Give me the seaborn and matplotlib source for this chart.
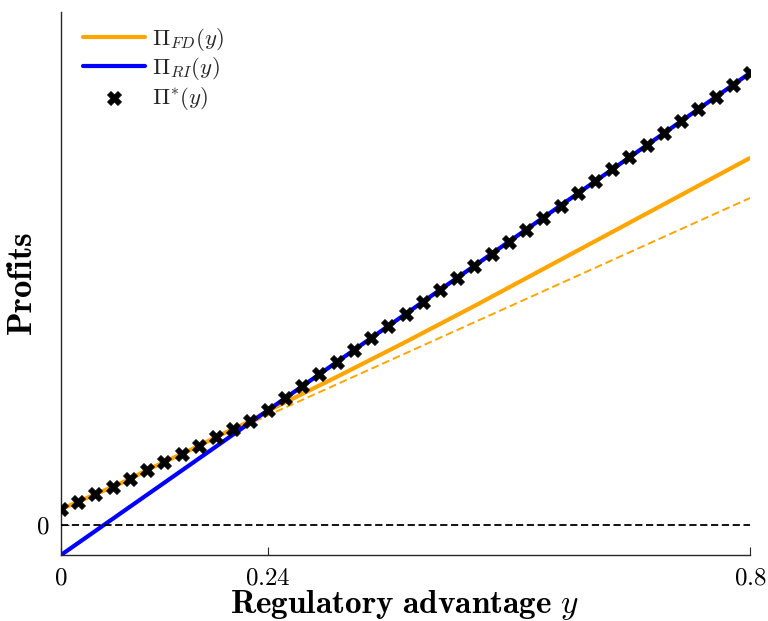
import matplotlib
matplotlib.use("Agg")
import matplotlib.pyplot as plt
import seaborn as sns
import numpy as np
import pandas as pd

# ---- data ----
fd_x = [0.00, 0.02, 0.04, 0.06, 0.08, 0.10, 0.12, 0.14, 0.16, 0.18, 0.20, 0.22, 0.24,
        0.32, 0.40, 0.48, 0.56, 0.64, 0.72, 0.80]
fd_y = [0.16, 0.23, 0.31, 0.38, 0.46, 0.55, 0.63, 0.71, 0.79, 0.88, 0.96, 1.04, 1.14,
        1.48, 1.83, 2.19, 2.56, 2.93, 3.30, 3.67]
fd_dash_x = [0.20, 0.80]
fd_dash_y = [0.94, 3.27]
ri_x = [0.00, 0.80]
ri_y = [-0.30, 4.52]
star_x = [round(0.02 * i, 2) for i in range(41)]
star_y = [0.16, 0.23, 0.31, 0.38, 0.46, 0.55, 0.63, 0.71, 0.79, 0.88, 0.96, 1.04,
          1.15, 1.27, 1.39, 1.51, 1.63, 1.75, 1.87, 1.99, 2.11, 2.23, 2.35, 2.47,
          2.59, 2.71, 2.83, 2.95, 3.07, 3.19, 3.32, 3.44, 3.56, 3.68, 3.80, 3.92,
          4.04, 4.16, 4.28, 4.40, 4.52]
xticks = [0, 0.24, 0.8]
xtick_labels = ["$0$", "$0.24$", "$0.8$"]
yticks = [0]
ytick_labels = ["$0$"]

sns.set_theme(style="ticks")
plt.rcParams["mathtext.fontset"] = "cm"
plt.rcParams["font.family"] = ["DejaVu Serif"]

fig = plt.figure(figsize=(7.68, 6.21), dpi=100)
ax = fig.add_axes([61 / 768, 1 - 555 / 621, 689 / 768, 543 / 621])

df_fd = pd.DataFrame({"x": fd_x, "y": fd_y})
df_dash = pd.DataFrame({"x": fd_dash_x, "y": fd_dash_y})
df_ri = pd.DataFrame({"x": ri_x, "y": ri_y})
df_star = pd.DataFrame({"x": star_x, "y": star_y})

sns.lineplot(data=df_dash, x="x", y="y", ax=ax, color="#FFA500", lw=1.4,
             linestyle=(0, (4, 2)), legend=False)
sns.lineplot(data=df_fd, x="x", y="y", ax=ax, color="#FFA500", lw=3,
             label=r"$\Pi_{FD}(y)$")
sns.lineplot(data=df_ri, x="x", y="y", ax=ax, color="#0000FF", lw=3,
             label=r"$\Pi_{RI}(y)$")
sns.scatterplot(data=df_star, x="x", y="y", ax=ax, marker="X", s=100, color="black",
                edgecolor="black", linewidth=0.6, label=r"$\Pi^{*}(y)$", zorder=5)
ax.plot([0, 0.8], [0, 0], color="black", lw=1.3, linestyle=(0, (4, 2)), zorder=6)

ax.set_xlim(0, 0.8)
ax.set_ylim(-0.30, 5.13)
ax.set_xticks(xticks)
ax.set_xticklabels(xtick_labels, fontsize=18)
ax.set_yticks(yticks)
ax.set_yticklabels(ytick_labels, fontsize=18)
ax.tick_params(direction="in", length=6, width=0.8, colors="#262626", labelcolor="black", pad=8)
for s in ["top", "right"]:
    ax.spines[s].set_visible(False)
for s in ["left", "bottom"]:
    ax.spines[s].set_linewidth(1.0)
    ax.spines[s].set_color("#262626")

ax.set_xlabel(r"$\mathbf{Regulatory\ advantage}\ y$", fontsize=24, va="baseline",
              color="black")
ax.xaxis.set_label_coords(0.498, -(613 - 555) / 543)
ax.set_ylabel(r"$\mathbf{Profits}$", fontsize=25, va="center", color="black")
ax.yaxis.set_label_coords(-(61 - 22) / 689, 0.5)

leg = ax.legend(loc="upper left", frameon=False, fontsize=16.5, handlelength=2.7,
                handletextpad=0.3, labelspacing=0.1, borderaxespad=0, borderpad=0,
                bbox_to_anchor=((83 - 61) / 689, (555 - 26) / 543))

fig.savefig("out.png", dpi=100)
